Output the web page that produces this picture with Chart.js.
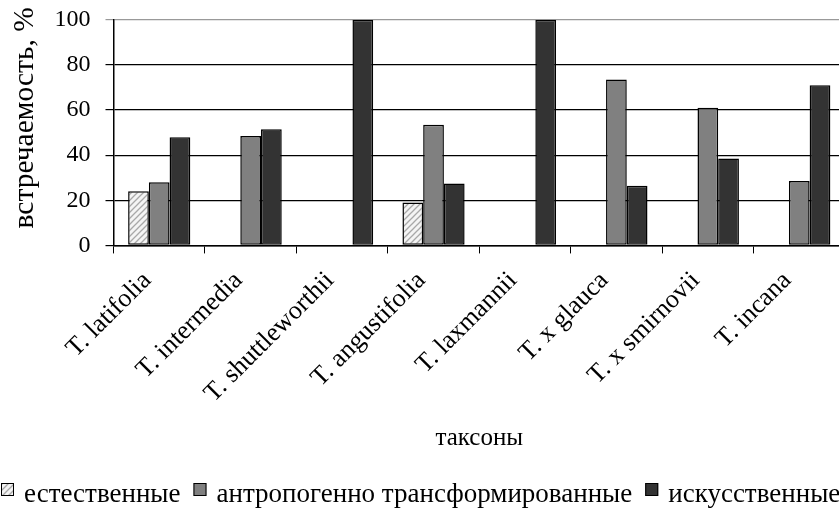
<!DOCTYPE html>
<html>
<head>
<meta charset="utf-8">
<script src="https://cdn.jsdelivr.net/npm/chart.js@4"></script>
<style>
  html, body { margin: 0; padding: 0; background: #fff; overflow: hidden; }
  #wrap { position: absolute; left: 0; top: 0; width: 845px; height: 511px; }
</style>
</head>
<body>
<div id="wrap"><canvas id="chart"></canvas></div>
<script>
const taxa = ['T. latifolia', 'T. intermedia', 'T. shuttleworthii', 'T. angustifolia',
              'T. laxmannii', 'T. x glauca', 'T. x smirnovii', 'T. incana'];
const natural = [24, 0, 0, 19, 0, 0, 0, 0];
const anthropogenic = [28, 48.5, 0, 53.5, 0, 73.5, 61, 28.5];
const artificial = [48, 51.5, 100, 27.5, 100, 26.5, 38.5, 71];
const yTicks = [0, 20, 40, 60, 80, 100];

const serif = 'Liberation Serif';

// hatched fill for the first series
function hatch() {
    const c = document.createElement('canvas');
    c.width = 6; c.height = 6;
    const g = c.getContext('2d');
    g.fillStyle = '#f4f4f4';
    g.fillRect(0, 0, 6, 6);
    g.strokeStyle = '#a8a8a8';
    g.lineWidth = 1.3;
    g.beginPath();
    g.moveTo(0, 6); g.lineTo(6, 0);
    g.moveTo(-3, 3); g.lineTo(3, -3);
    g.moveTo(3, 9); g.lineTo(9, 3);
    g.stroke();
    return g.createPattern(c, 'repeat');
}

// one-line legend at the bottom, like the original (it runs past the right edge)
const lineLegend = {
    id: 'lineLegend',
    afterDraw(chart) {
        const c = chart.ctx;
        const box = 13, gapText = 10, gapItem = 13;
        c.save();
        c.font = '27px ' + serif;
        let x = 1;
        const y = 502;
        chart.data.datasets.forEach(ds => {
            c.fillStyle = ds.backgroundColor;
            c.fillRect(x, y - 19, box, box);
            c.strokeStyle = '#000';
            c.lineWidth = 1;
            c.strokeRect(x + 0.5, y - 18.5, box - 1, box - 1);
            x += box + gapText;
            c.fillStyle = '#000';
            c.textBaseline = 'alphabetic';
            c.fillText(ds.label, x, y);
            x += c.measureText(ds.label).width + gapItem;
        });
        c.restore();
    }
};

const ctx = document.getElementById('chart').getContext('2d');

new Chart(ctx, {
    type: 'bar',
    data: {
        labels: taxa,
        datasets: [
            { label: 'естественные', data: natural, backgroundColor: hatch() },
            { label: 'антропогенно трансформированные', data: anthropogenic, backgroundColor: '#808080' },
            { label: 'искусственные', data: artificial, backgroundColor: '#333333' }
        ]
    },
    plugins: [lineLegend],
    options: {
        responsive: true,
        maintainAspectRatio: false,
        animation: false,
        layout: { padding: { left: 7, right: 0, top: 0, bottom: 44 } },
        datasets: {
            bar: {
                borderColor: '#000',
                borderWidth: 1.5,
                borderSkipped: false,
                categoryPercentage: 0.68,
                barPercentage: 1
            }
        },
        plugins: {
            tooltip: { enabled: false },
            legend: { display: false }
        },
        scales: {
            x: {
                border: { color: '#000', width: 1.5 },
                grid: { offset: true, drawOnChartArea: false, drawTicks: true, tickLength: 8, color: '#000' },
                ticks: {
                    color: '#000',
                    font: { family: serif, size: 26, lineHeight: 1.0 },
                    minRotation: 45, maxRotation: 45,
                    autoSkip: false,
                    padding: 14,
                    labelOffset: -12
                },
                title: {
                    display: true,
                    text: 'таксоны',
                    color: '#000',
                    font: { family: serif, size: 25 },
                    padding: { top: 2, bottom: 14 }
                }
            },
            y: {
                min: 0, max: 100,
                afterBuildTicks: axis => { axis.ticks = yTicks.map(v => ({ value: v })); },
                border: { color: '#000', width: 1.5 },
                grid: {
                    color: c => c.tick && c.tick.value === 100 ? '#999' : '#000',
                    lineWidth: 1.2,
                    tickLength: 8
                },
                ticks: {
                    color: '#000',
                    font: { family: serif, size: 24, lineHeight: 0.4 },
                    padding: 15
                },
                title: {
                    display: true,
                    text: '    встречаемость, %',
                    color: '#000',
                    font: { family: serif, size: 29.5, lineHeight: 1.0 },
                    padding: { top: 3, bottom: 0 }
                }
            }
        }
    }
});
</script>
</body>
</html>
